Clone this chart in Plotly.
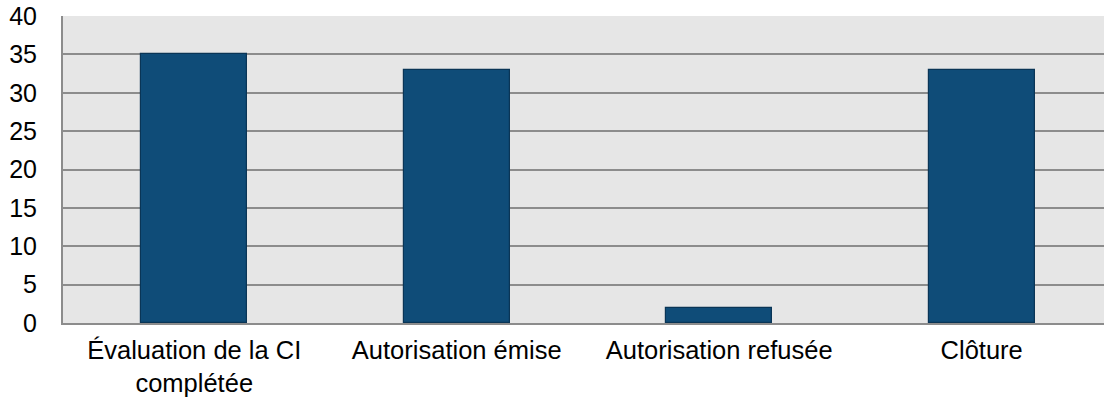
import plotly.graph_objects as go

categories = ["Évaluation de la CI<br>complétée", "Autorisation émise", "Autorisation refusée", "Clôture"]
values = [35, 33, 2, 33]
y_ticks = [0, 5, 10, 15, 20, 25, 30, 35, 40]

fig = go.Figure(
    go.Bar(
        x=list(range(len(categories))),
        y=values,
        width=0.405,
        marker=dict(color="#0F4C78", line=dict(color="#0A3556", width=1.2)),
    )
)

fig.update_layout(
    width=1104,
    height=400,
    margin=dict(l=63, r=0, t=16, b=77),
    paper_bgcolor="white",
    plot_bgcolor="#E6E6E6",
    font=dict(family="Liberation Sans, Arial", size=25, color="black"),
    showlegend=False,
    bargap=0,
)
fig.update_xaxes(
    tickmode="array",
    tickvals=list(range(len(categories))),
    ticktext=categories,
    tickfont=dict(size=25.5),
    range=[-0.5, 3.466],
    showgrid=False,
    showline=True,
    linecolor="#8C8C8C",
    linewidth=2,
    ticks="",
    ticklabelstandoff=3,
    automargin=False,
    fixedrange=True,
)
fig.update_yaxes(
    range=[0, 40],
    tickvals=y_ticks,
    showgrid=True,
    gridcolor="#8C8C8C",
    gridwidth=2,
    showline=True,
    linecolor="#8C8C8C",
    linewidth=2,
    zeroline=False,
    ticks="",
    ticklabelstandoff=19,
    automargin=False,
    fixedrange=True,
)

fig.write_html("out.html")
